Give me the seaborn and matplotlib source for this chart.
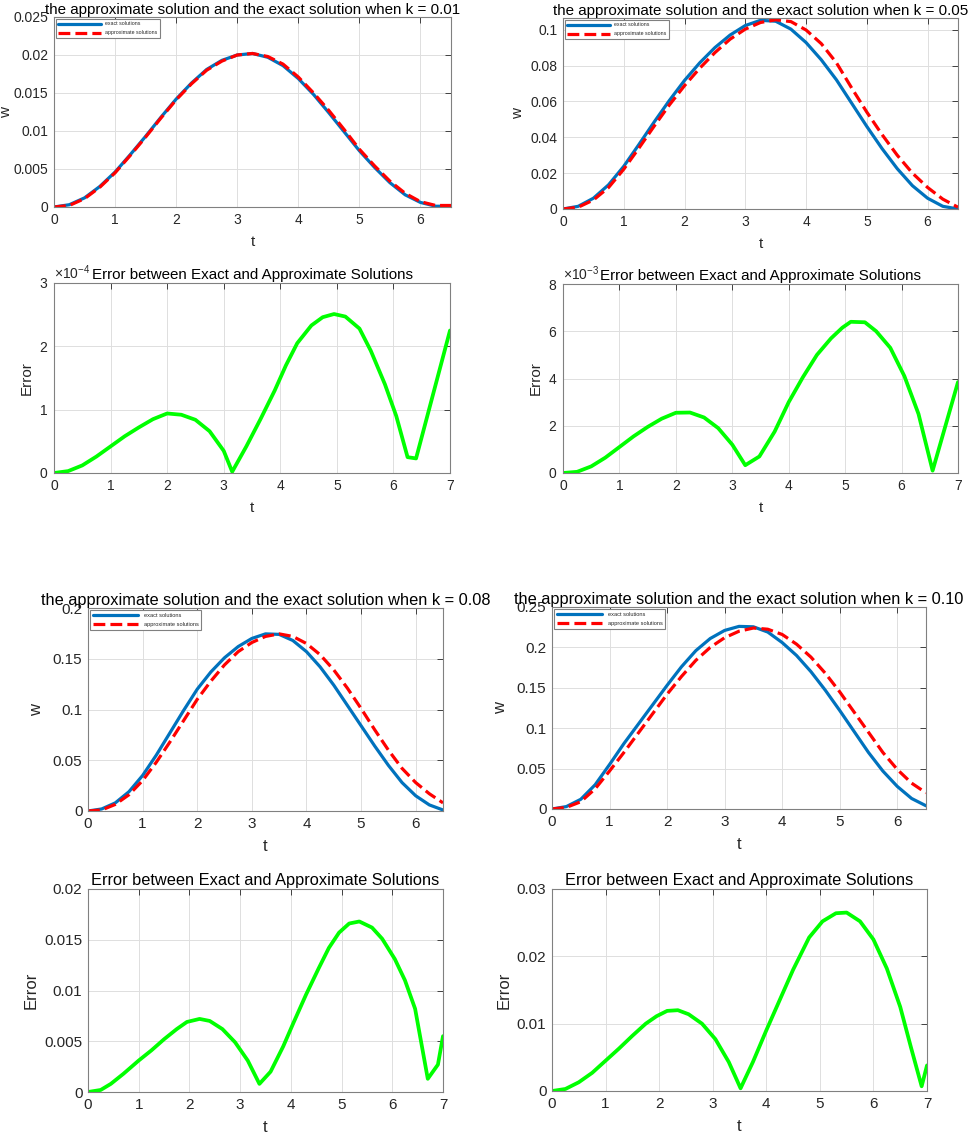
import matplotlib
matplotlib.use("Agg")
import matplotlib.pyplot as plt
import matplotlib.ticker as mticker
import seaborn as sns

# sample times of the w curves
t_w = [0.0, 0.25, 0.5, 0.75, 1.0, 1.25, 1.5, 1.75, 2.0, 2.25, 2.5, 2.75, 3.0,
       3.25, 3.5, 3.75, 4.0, 4.25, 4.5, 4.75, 5.0, 5.25, 5.5, 5.75, 6.0, 6.25, 6.5]

exact_001 = [0.0000, 0.0003, 0.0012, 0.0027, 0.0046, 0.0069, 0.0093, 0.0118, 0.0142,
             0.0163, 0.0181, 0.0193, 0.0200, 0.0202, 0.0197, 0.0186, 0.0169, 0.0148,
             0.0124, 0.0099, 0.0074, 0.0052, 0.0032, 0.0016, 0.0006, 0.0001, 0.0001]
approx_001 = [0.0000, 0.0002, 0.0011, 0.0026, 0.0045, 0.0068, 0.0092, 0.0117, 0.0141,
              0.0162, 0.0180, 0.0192, 0.0200, 0.0202, 0.0198, 0.0188, 0.0171, 0.0150,
              0.0127, 0.0102, 0.0076, 0.0054, 0.0034, 0.0018, 0.0007, 0.0002, 0.0002]

exact_005 = [0.0000, 0.0015, 0.0060, 0.0135, 0.0238, 0.0360, 0.0485, 0.0605, 0.0717,
             0.0815, 0.0900, 0.0970, 0.1023, 0.1052, 0.1047, 0.1003, 0.0928, 0.0832,
             0.0720, 0.0590, 0.0460, 0.0337, 0.0225, 0.0130, 0.0060, 0.0015, 0.0000]
approx_005 = [0.0000, 0.0010, 0.0050, 0.0120, 0.0222, 0.0340, 0.0462, 0.0580, 0.0688,
              0.0785, 0.0872, 0.0947, 0.1003, 0.1040, 0.1055, 0.1045, 0.0998, 0.0922,
              0.0815, 0.0675, 0.0540, 0.0415, 0.0300, 0.0200, 0.0120, 0.0055, 0.0010]

exact_008 = [0.000, 0.002, 0.008, 0.019, 0.035, 0.055, 0.077, 0.099, 0.120, 0.137,
             0.151, 0.162, 0.170, 0.1745, 0.174, 0.168, 0.157, 0.142, 0.124, 0.104,
             0.084, 0.064, 0.045, 0.028, 0.015, 0.006, 0.001]
approx_008 = [0.000, 0.001, 0.0065, 0.016, 0.030, 0.048, 0.068, 0.089, 0.110, 0.128,
              0.144, 0.157, 0.166, 0.172, 0.1745, 0.172, 0.165, 0.154, 0.139, 0.121,
              0.101, 0.080, 0.060, 0.042, 0.028, 0.017, 0.008]

exact_010 = [0.000, 0.003, 0.012, 0.030, 0.055, 0.081, 0.105, 0.129, 0.153, 0.176,
             0.196, 0.211, 0.221, 0.226, 0.2255, 0.219, 0.206, 0.190, 0.170, 0.147,
             0.122, 0.096, 0.070, 0.047, 0.028, 0.013, 0.004]
approx_010 = [0.000, 0.002, 0.009, 0.025, 0.047, 0.070, 0.094, 0.118, 0.142, 0.164,
              0.184, 0.200, 0.212, 0.220, 0.224, 0.2225, 0.216, 0.204, 0.188, 0.168,
              0.145, 0.120, 0.095, 0.070, 0.049, 0.032, 0.020]

# error curves (piecewise linear in the reference)
err_t_001 = [0.0, 0.25, 0.5, 0.75, 1.0, 1.25, 1.5, 1.75, 2.0, 2.25, 2.5, 2.75, 3.0, 3.15,
             3.4, 3.65, 3.9, 4.1, 4.3, 4.55, 4.75, 4.95, 5.15, 5.4, 5.6, 5.85, 6.05,
             6.25, 6.4, 7.0]
err_001 = [0.0, 0.03e-4, 0.12e-4, 0.26e-4, 0.42e-4, 0.58e-4, 0.72e-4, 0.85e-4, 0.94e-4,
           0.92e-4, 0.84e-4, 0.66e-4, 0.35e-4, 0.02e-4, 0.42e-4, 0.85e-4, 1.30e-4,
           1.70e-4, 2.05e-4, 2.33e-4, 2.46e-4, 2.51e-4, 2.47e-4, 2.28e-4, 1.93e-4,
           1.40e-4, 0.90e-4, 0.25e-4, 0.23e-4, 2.25e-4]

err_t_005 = [0.0, 0.25, 0.5, 0.75, 1.0, 1.25, 1.5, 1.75, 2.0, 2.25, 2.5, 2.75, 3.0, 3.23,
             3.48, 3.75, 4.0, 4.25, 4.5, 4.75, 4.95, 5.1, 5.35, 5.55, 5.8, 6.05, 6.3,
             6.55, 7.0]
err_005 = [0.0, 0.05e-3, 0.28e-3, 0.65e-3, 1.10e-3, 1.55e-3, 1.95e-3, 2.30e-3, 2.55e-3,
           2.56e-3, 2.35e-3, 1.90e-3, 1.20e-3, 0.33e-3, 0.70e-3, 1.75e-3, 3.00e-3,
           4.05e-3, 5.00e-3, 5.70e-3, 6.15e-3, 6.40e-3, 6.38e-3, 6.00e-3, 5.30e-3,
           4.10e-3, 2.50e-3, 0.10e-3, 3.85e-3]

err_t_008 = [0.0, 0.25, 0.45, 0.7, 1.0, 1.25, 1.5, 1.75, 1.95, 2.2, 2.4, 2.65, 2.9, 3.15,
             3.38, 3.6, 3.85, 4.05, 4.3, 4.55, 4.75, 4.95, 5.15, 5.35, 5.6, 5.8, 6.05,
             6.25, 6.45, 6.7, 6.9, 7.0]
err_008 = [0.0, 0.0002, 0.0008, 0.0018, 0.0031, 0.0041, 0.0052, 0.0062, 0.0069, 0.0072,
           0.0070, 0.0062, 0.0049, 0.0031, 0.0008, 0.0020, 0.0045, 0.0068, 0.0096,
           0.0122, 0.0142, 0.0157, 0.0166, 0.0168, 0.0162, 0.0151, 0.0131, 0.0110,
           0.0082, 0.0013, 0.0027, 0.0055]

err_t_010 = [0.0, 0.25, 0.5, 0.75, 1.0, 1.25, 1.5, 1.75, 1.95, 2.15, 2.35, 2.55, 2.8, 3.05,
             3.3, 3.52, 3.75, 4.0, 4.25, 4.5, 4.8, 5.05, 5.3, 5.5, 5.75, 6.0, 6.25, 6.5,
             6.7, 6.9, 7.0]
err_010 = [0.0, 0.0003, 0.0013, 0.0027, 0.0045, 0.0063, 0.0082, 0.0100, 0.0111, 0.0119,
           0.0120, 0.0114, 0.0100, 0.0077, 0.0043, 0.0004, 0.0043, 0.0090, 0.0135,
           0.0180, 0.0228, 0.0252, 0.0264, 0.0265, 0.0252, 0.0225, 0.0182, 0.0125,
           0.0065, 0.0007, 0.0038]

sns.set_theme(style="whitegrid")
plt.rcParams["font.family"] = ["Liberation Sans", "DejaVu Sans"]
plt.rcParams["mathtext.fontset"] = "custom"
plt.rcParams["mathtext.rm"] = "Liberation Sans"
plt.rcParams["mathtext.it"] = "Liberation Sans:italic"

BLUE = "#0072BD"
RED = "#FF0000"
GREEN = "#00FF00"
TXT = "#262626"

W, H = 969, 1135
fig = plt.figure(figsize=(W / 100, H / 100), dpi=100)
fig.patch.set_facecolor("white")


def make_axes(box):
    l, t, r, b = box
    return fig.add_axes([l / W, 1 - b / H, (r - l) / W, (b - t) / H])


def style(ax, fs):
    ax.set_facecolor("white")
    ax.grid(True, color="#dedede", linewidth=0.7)
    ax.tick_params(direction="in", top=True, right=True, length=4, width=0.6,
                   colors=TXT, labelsize=fs, pad=4)
    for sp in ax.spines.values():
        sp.set_visible(True)
        sp.set_color("#808080")
        sp.set_linewidth(0.8)


def w_panel(box, k, exact, approx, ylim, yticks, fs, tfs, lfs, ylpad):
    ax = make_axes(box)
    sns.lineplot(x=t_w, y=exact, ax=ax, color=BLUE, linewidth=2.3,
                 label="exact solutions")
    sns.lineplot(x=t_w, y=approx, ax=ax, color=RED, linewidth=2.3,
                 linestyle="--", label="approximate solutions")
    style(ax, fs)
    ax.set_xlim(0, 6.5)
    ax.set_xticks(range(0, 7))
    ax.set_ylim(*ylim)
    ax.set_yticks(yticks)
    ax.yaxis.set_major_formatter(mticker.FuncFormatter(lambda v, p: f"{v:g}"))
    ax.set_xlabel("t", fontsize=fs + 1, color=TXT, labelpad=6)
    ax.set_ylabel("w", fontsize=fs + 1, color=TXT, labelpad=ylpad)
    ax.set_title(f"the approximate solution and the exact solution when k = {k}",
                 fontsize=tfs, color="black", pad=2)
    leg = ax.legend(loc="upper left", fontsize=lfs, frameon=True, fancybox=False,
                    edgecolor="#808080", framealpha=1, handlelength=8,
                    handletextpad=0.9, borderaxespad=0.4, borderpad=0.45,
                    labelspacing=0.75)
    leg.get_frame().set_linewidth(0.8)
    return ax


def err_panel(box, t, err, ylim, yticks, fs, tfs, sci=False):
    ax = make_axes(box)
    sns.lineplot(x=t, y=err, ax=ax, color=GREEN, linewidth=2.7)
    style(ax, fs)
    ax.set_xlim(0, 7)
    ax.set_xticks(range(0, 8))
    ax.set_ylim(*ylim)
    ax.set_yticks(yticks)
    if sci:
        fmt = mticker.ScalarFormatter(useMathText=True)
        fmt.set_powerlimits((-2, 2))
        ax.yaxis.set_major_formatter(fmt)
        ax.yaxis.get_offset_text().set_fontsize(fs)
        ax.yaxis.get_offset_text().set_color(TXT)
    else:
        ax.yaxis.set_major_formatter(mticker.FuncFormatter(lambda v, p: f"{v:g}"))
    ax.set_xlabel("t", fontsize=fs + 1, color=TXT, labelpad=6)
    ax.set_ylabel("Error", fontsize=fs + 1, color=TXT)
    ax.set_title("Error between Exact and Approximate Solutions",
                 fontsize=tfs, color="black", pad=3)
    return ax


fs_top, tfs_top = 10, 10.9
fs_bot, tfs_bot = 11, 11.8

w_panel((54, 17, 451, 207), "0.01", exact_001, approx_001, (0, 0.025),
        [0, 0.005, 0.01, 0.015, 0.02, 0.025], fs_top, tfs_top, 3.8, 0.5)
w_panel((563, 18, 958, 209), "0.05", exact_005, approx_005, (0, 0.1065),
        [0, 0.02, 0.04, 0.06, 0.08, 0.1], fs_top, tfs_top, 3.8, 4)
err_panel((54, 283, 450, 473), err_t_001, err_001, (0, 3e-4),
          [0, 1e-4, 2e-4, 3e-4], fs_top, tfs_top, sci=True)
err_panel((563, 284, 958, 473), err_t_005, err_005, (0, 8e-3),
          [0, 2e-3, 4e-3, 6e-3, 8e-3], fs_top, tfs_top, sci=True)

w_panel((88, 608, 443, 811), "0.08", exact_008, approx_008, (0, 0.2),
        [0, 0.05, 0.1, 0.15, 0.2], fs_bot, tfs_bot, 4.1, 6)
w_panel((552, 607, 926, 809), "0.10", exact_010, approx_010, (0, 0.25),
        [0, 0.05, 0.1, 0.15, 0.2, 0.25], fs_bot, tfs_bot, 4.1, 6)
err_panel((88, 889, 443, 1092), err_t_008, err_008, (0, 0.02),
          [0, 0.005, 0.01, 0.015, 0.02], fs_bot, tfs_bot)
err_panel((552, 889, 927, 1091), err_t_010, err_010, (0, 0.03),
          [0, 0.01, 0.02, 0.03], fs_bot, tfs_bot)

fig.savefig("out.png", dpi=100, facecolor="white")
